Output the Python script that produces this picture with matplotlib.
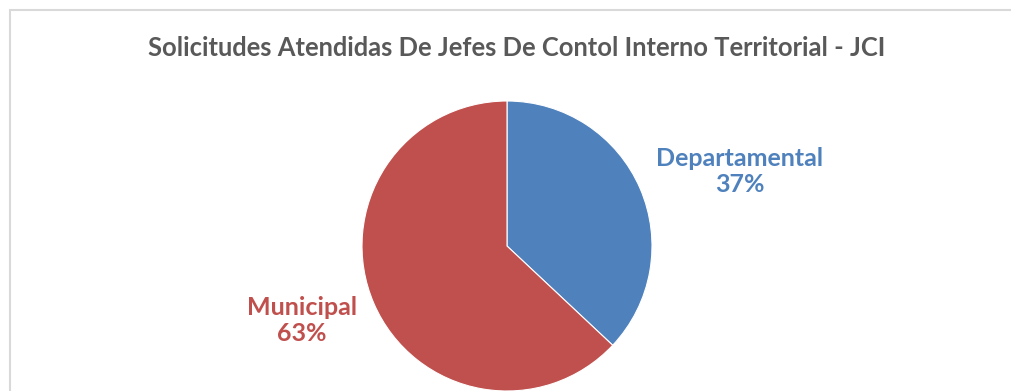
import matplotlib.pyplot as plt
from matplotlib.patches import Rectangle

# Solicitudes atendidas por tipo de jefe de control interno
categorias = ['Departamental', 'Municipal']
valores = [37, 63]
colores = ['#4F81BD', '#C0504D']

titulo = 'Solicitudes Atendidas De Jefes De Contol Interno Territorial - JCI'

W, H = 1011, 391
fig = plt.figure(figsize=(W / 100, H / 100), dpi=100)
plt.rcParams['font.family'] = ['Lato', 'DejaVu Sans']

# marco gris del area del grafico
fig.patches.append(Rectangle((9.5 / W, -0.1), 1.2, (H - 9.5) / H + 0.1,
                             transform=fig.transFigure, fill=False,
                             edgecolor='#D9D9D9', linewidth=1.5))

fig.text(517 / W, (H - 48) / H, titulo, ha='center', va='center',
         fontsize=18.4, fontweight='bold', color='#595959')

# pie centrado en (507, 246) px con radio 145 px
cx, cy, r = 507, 246, 145
ax = fig.add_axes([(cx - r) / W, (H - cy - r) / H, 2 * r / W, 2 * r / H])
wedges, _ = ax.pie(valores, colors=colores, startangle=90, counterclock=False,
                   wedgeprops=dict(edgecolor='white', linewidth=0.8))
ax.set_xlim(-1, 1)
ax.set_ylim(-1, 1)

total = sum(valores)
posiciones = [(1.607, 0.514), (-1.414, -0.514)]
for cat, val, col, (x, y) in zip(categorias, valores, colores, posiciones):
    ax.text(x, y, f'{cat}\n{val / total * 100:.0f}%', ha='center', va='center',
            fontsize=18, fontweight='bold', color=col, linespacing=1.18,
            clip_on=False)

fig.savefig('out.png', dpi=100)
